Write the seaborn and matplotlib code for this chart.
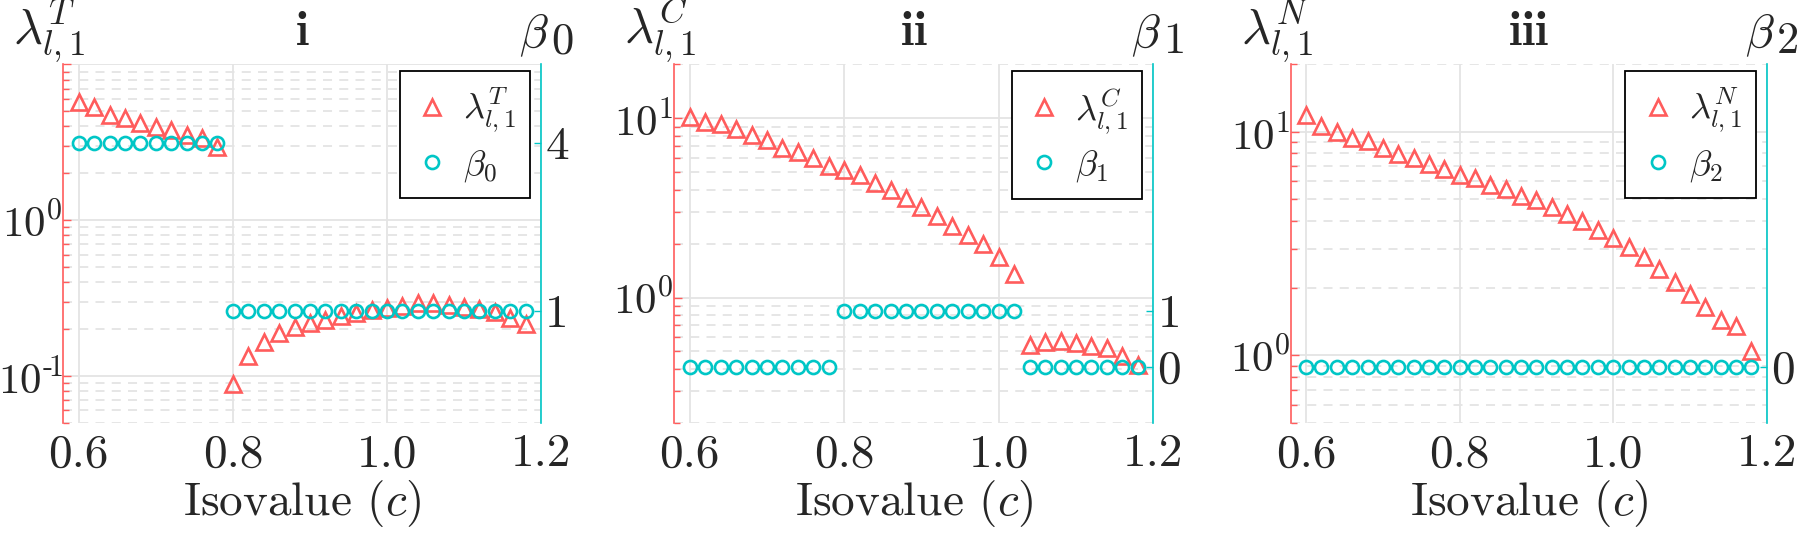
import matplotlib
matplotlib.use("Agg")
import matplotlib.pyplot as plt
import numpy as np
import pandas as pd
import seaborn as sns
from matplotlib.ticker import LogLocator, NullFormatter, FuncFormatter

# ---------------- data ----------------
isovalue = [0.60, 0.62, 0.64, 0.66, 0.68, 0.70, 0.72, 0.74, 0.76, 0.78,
            0.80, 0.82, 0.84, 0.86, 0.88, 0.90, 0.92, 0.94, 0.96, 0.98,
            1.00, 1.02, 1.04, 1.06, 1.08, 1.10, 1.12, 1.14, 1.16, 1.18]

lam_T = [5.73, 5.31, 4.75, 4.56, 4.23, 3.98, 3.77, 3.54, 3.37, 2.96,
         0.089, 0.135, 0.166, 0.188, 0.205, 0.219, 0.229, 0.243, 0.255, 0.264,
         0.272, 0.282, 0.292, 0.292, 0.285, 0.277, 0.268, 0.258, 0.236, 0.214]
beta_0 = [4, 4, 4, 4, 4, 4, 4, 4, 4, 4,
          1, 1, 1, 1, 1, 1, 1, 1, 1, 1,
          1, 1, 1, 1, 1, 1, 1, 1, 1, 1]

lam_C = [10.2, 9.6, 9.33, 8.71, 8.09, 7.59, 6.82, 6.53, 6.0, 5.43,
         5.16, 4.80, 4.35, 3.99, 3.58, 3.22, 2.86, 2.52, 2.24, 1.99,
         1.69, 1.36, 0.542, 0.566, 0.574, 0.554, 0.538, 0.524, 0.471, 0.42]
beta_1 = [0, 0, 0, 0, 0, 0, 0, 0, 0, 0,
          1, 1, 1, 1, 1, 1, 1, 1, 1, 1,
          1, 1, 0, 0, 0, 0, 0, 0, 0, 0]

lam_N = [11.9, 10.65, 10.0, 9.42, 9.06, 8.45, 7.96, 7.60, 7.16, 6.80,
         6.40, 6.22, 5.80, 5.54, 5.18, 4.95, 4.62, 4.27, 3.97, 3.63,
         3.34, 3.06, 2.75, 2.43, 2.14, 1.88, 1.65, 1.44, 1.35, 1.05]
beta_2 = [0] * 30

panel_titles = ["i", "ii", "iii"]
lam_labels = [r"$\lambda^{T}_{l,1}$", r"$\lambda^{C}_{l,1}$", r"$\lambda^{N}_{l,1}$"]
beta_subs = ["0", "1", "2"]
beta_labels = [r"$\beta_0$", r"$\beta_1$", r"$\beta_2$"]
x_ticks = [0.6, 0.8, 1.0, 1.2]
x_tick_labels = ["0.6", "0.8", "1.0", "1.2"]
left_ylims = [(0.05, 10), (0.2, 20), (0.5, 20)]
right_ylim = (-1, 5.4)
x_label = r"Isovalue $(c)$"

# ---------------- style ----------------
sns.set_style("white")
plt.rcParams.update({
    "font.family": "cmr10",
    "mathtext.fontset": "cm",
    "axes.formatter.use_mathtext": True,
    "axes.unicode_minus": False,
})

RED = "#FF5C5C"
CYAN = "#00C6C6"
GRID = "#E4E4E4"
FS = 34

W, H = 1800, 536
fig = plt.figure(figsize=(W / 100, H / 100), dpi=100)
positions = [[0.0352, 0.2114, 0.2654, 0.6683],
             [0.3746, 0.2114, 0.2661, 0.6683],
             [0.7171, 0.2114, 0.2644, 0.6683]]

lams = [lam_T, lam_C, lam_N]
betas = [beta_0, beta_1, beta_2]


def make_log_formatter(top):
    def fmt(v, pos):
        if v >= top * 0.999:
            return ""
        e = int(round(np.log10(v)))
        if e < 0:
            return r"$10^{\text{-}\!%d}$" % (-e)
        return r"$10^{%d}$" % e
    return FuncFormatter(fmt)


for k in range(3):
    pos = positions[k]
    ax = fig.add_axes(pos)
    ax2 = ax.twinx()
    df = pd.DataFrame({"c": isovalue, "lam": lams[k], "beta": betas[k]})

    ax.set_yscale("log")
    sns.lineplot(data=df, x="c", y="lam", ax=ax, marker="^", linestyle="",
                 markersize=11, markerfacecolor="none", markeredgecolor=RED,
                 markeredgewidth=1.9, color=RED, legend=False, zorder=3)
    sns.lineplot(data=df, x="c", y="beta", ax=ax2, marker="o", linestyle="",
                 markersize=9.4, markerfacecolor="none", markeredgecolor=CYAN,
                 markeredgewidth=1.9, color=CYAN, legend=False, zorder=3)

    ax.set_xlim(0.58, 1.2)
    ax.set_ylim(*left_ylims[k])
    ax2.set_ylim(*right_ylim)

    ax.yaxis.set_major_locator(LogLocator(base=10))
    ax.yaxis.set_major_formatter(make_log_formatter(left_ylims[k][1]))
    ax.yaxis.set_minor_locator(LogLocator(base=10, subs=np.arange(2, 10)))
    ax.yaxis.set_minor_formatter(NullFormatter())
    ax.set_xticks(x_ticks, labels=x_tick_labels)

    bt = sorted(set(betas[k]))
    ax2.set_yticks(bt, labels=[str(int(v)) for v in bt])

    ax.set_axisbelow(True)
    ax.grid(which="major", axis="both", color=GRID, lw=1.3, ls="-")
    ax.grid(which="minor", axis="y", color=GRID, lw=1.3, ls=(0, (5, 4)))
    ax2.grid(False)

    for sp in ["top", "bottom", "right"]:
        ax.spines[sp].set_visible(False)
    ax.spines["left"].set_color(RED)
    ax.spines["left"].set_linewidth(1.2)
    for sp in ["top", "bottom", "left"]:
        ax2.spines[sp].set_visible(False)
    ax2.spines["right"].set_color(CYAN)
    ax2.spines["right"].set_linewidth(1.2)

    ax.tick_params(axis="y", which="major", direction="in", length=6, width=1,
                   color=RED, labelsize=31, pad=0.3, left=True)
    ax.tick_params(axis="y", which="minor", direction="in", length=4, width=1,
                   color=RED, left=True)
    ax.tick_params(axis="x", which="both", length=0, labelsize=FS, pad=8)
    ax2.tick_params(axis="y", which="major", direction="in", length=5, width=1,
                    color=CYAN, labelsize=FS, pad=3, right=True)

    ax.set_ylabel("")
    ax2.set_ylabel("")
    ax.set_xlabel(x_label, fontsize=FS, labelpad=2)
    ax.set_title(r"$\mathbf{" + panel_titles[k] + "}$", fontsize=FS, pad=14)

    # corner axis labels (figure coordinates)
    left_px = pos[0] * W
    right_px = (pos[0] + pos[2]) * W
    top_px = H - (pos[1] + pos[3]) * H
    fig.text((left_px - 50) / W, 1 - (top_px - 21) / H, lam_labels[k],
             ha="left", va="baseline", fontsize=36)
    fig.text((right_px - 22) / W, 1 - (top_px - 16) / H, r"$\beta$",
             ha="left", va="baseline", fontsize=FS)
    fig.text((right_px + 10) / W, 1 - (top_px - 11) / H, beta_subs[k],
             ha="left", va="baseline", fontsize=FS - 2)

    leg = ax2.legend(handles=[ax.lines[0], ax2.lines[0]],
                     labels=[lam_labels[k], beta_labels[k]],
                     loc="upper right", bbox_to_anchor=(1 - 11 / 478, 1 - 7 / 358.4),
                     borderaxespad=0, fontsize=26, frameon=True, fancybox=False,
                     edgecolor="black", framealpha=1, handlelength=1.0,
                     handletextpad=0.35, borderpad=0.4, labelspacing=0.35)
    leg.get_frame().set_linewidth(1.3)

fig.savefig("out.png", dpi=100)
